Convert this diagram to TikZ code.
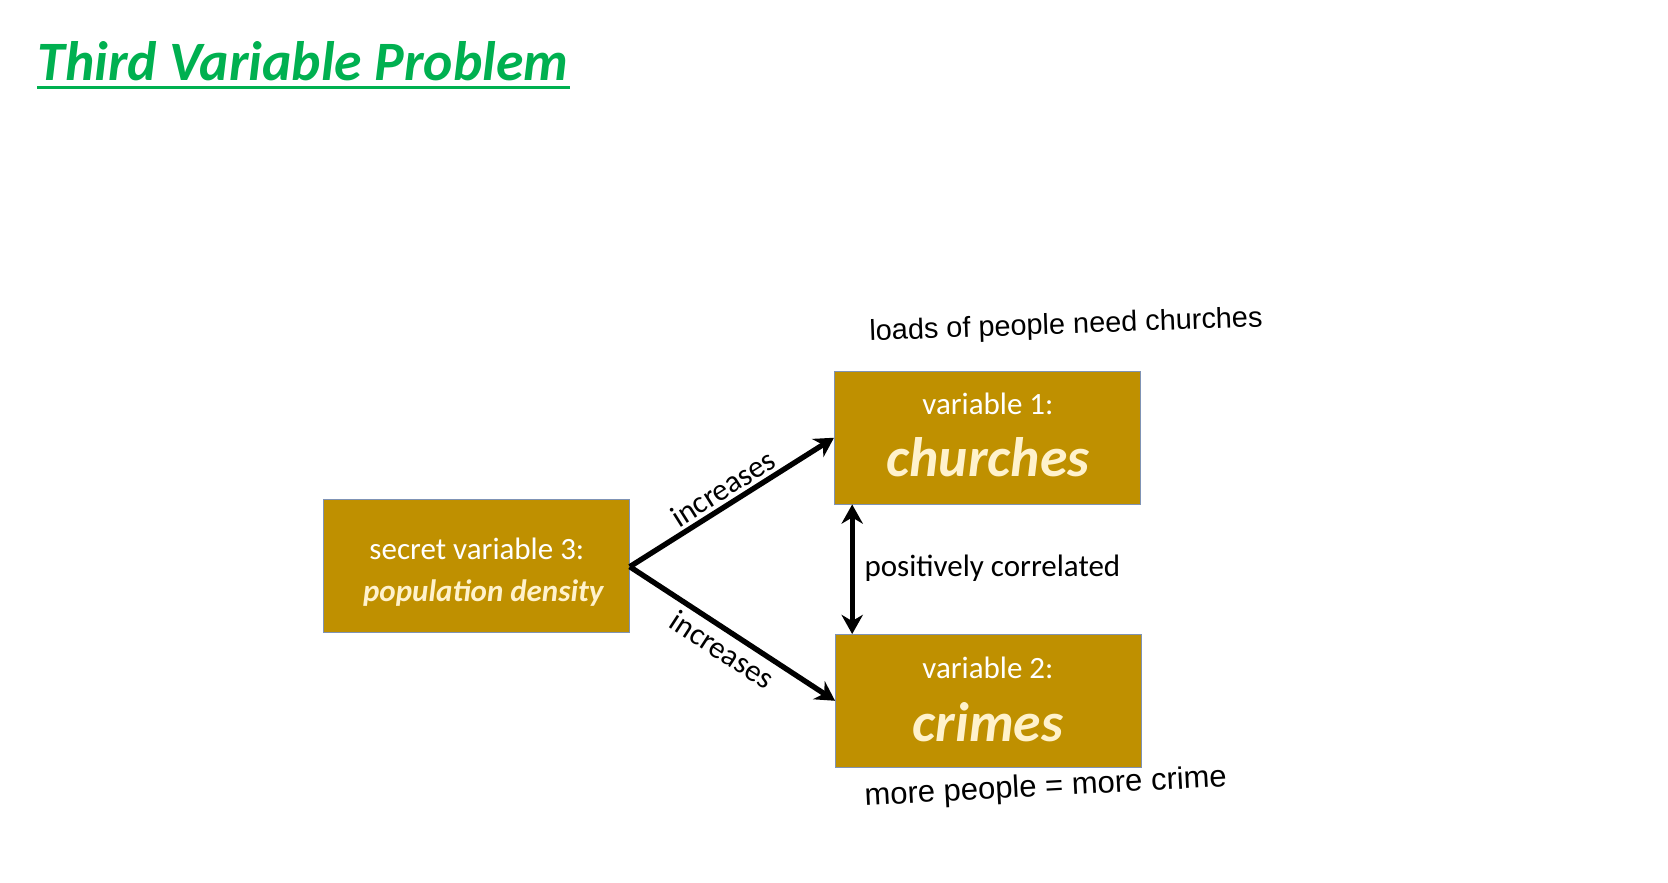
\documentclass[tikz,border=0pt]{standalone}
\usepackage{fontspec}
\setmainfont{Carlito}
\newfontfamily\hand{Liberation Sans}
\usetikzlibrary{arrows.meta}
\definecolor{gold}{HTML}{BF9000}
\definecolor{ttl}{HTML}{00B050}
\definecolor{lite}{HTML}{FFF2CC}
\definecolor{edge}{HTML}{7F93B5}
\begin{document}
\begin{tikzpicture}[x=1pt,y=-1pt,
  box/.style={draw=edge,line width=0.8pt,fill=gold,minimum width=286pt,minimum height=124pt,anchor=north west,inner sep=0},
  arr/.style={line width=5pt,-{Stealth[length=18pt,width=20pt]}},
  lbl/.style={font=\fontsize{29}{32}\selectfont},
  big/.style={text=lite,font=\fontsize{52}{56}\selectfont\bfseries\itshape},
  hw/.style={font=\hand\fontsize{27}{30}\selectfont}]
\useasboundingbox (0,0) rectangle (1560,825);
\node[anchor=base west,text=ttl,font=\fontsize{52}{56}\selectfont\bfseries\itshape,inner sep=0] (title) at (35,75) {Third Variable Problem};
\draw[ttl,line width=3pt] (35,82) -- (533,82);
\node[box] (v3) at (302,467) {};
\node[box] (v1) at (780,347) {};
\node[box] (v2) at (781,593) {};
\node[lbl,text=white] at (446,513) {secret variable 3:};
\node[text=lite,font=\fontsize{29}{32}\selectfont\bfseries\itshape] at (452,555) {population density};
\node[lbl,text=white] at (924,378) {variable 1:};
\node[big] at (924,428) {churches};
\node[lbl,text=white] at (924,625) {variable 2:};
\node[big] at (924,675) {crimes};
\coordinate (s) at (589,530);
\coordinate (a) at (797,347);
\draw[arr] (s) -- (v1.west) node[midway,above,sloped,lbl,inner sep=3pt] {increases};
\draw[arr] (s) -- (v2.west) node[midway,below,sloped,lbl,inner sep=5pt] {increases};
\draw[line width=5pt,{Stealth[length=18pt,width=20pt]}-{Stealth[length=18pt,width=20pt]}] (a |- v1.south) -- (a |- v2.north);
\node[lbl,anchor=west] (pc) at (805,531) {positively correlated};
\node[hw,rotate=2] (h1) at (997,305) {loads of people need churches};
\node[hw,rotate=3,font=\hand\fontsize{29}{32}\selectfont] (h2) at (978,737) {more people = more crime};
\end{tikzpicture}
\end{document}
